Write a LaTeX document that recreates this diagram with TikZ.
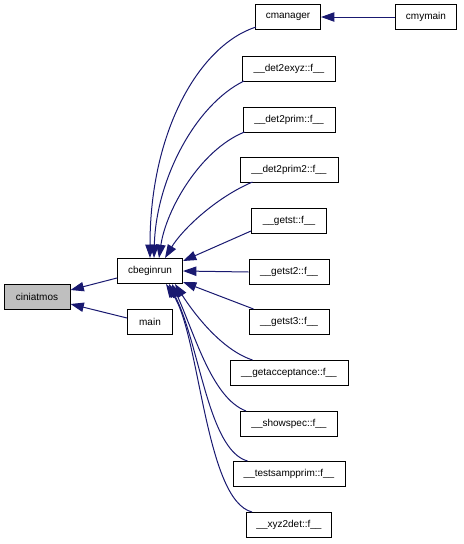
\documentclass[tikz,border=0pt]{standalone}
\usepackage{fontspec}
\setmainfont{Liberation Sans}
\usetikzlibrary{arrows.meta,calc}
\definecolor{edgeblue}{HTML}{191970}
\definecolor{hilite}{HTML}{BFBFBF}
\begin{document}
\begin{tikzpicture}[x=0.75pt,y=-0.75pt,
  box/.style={draw=black,line width=0.75pt,fill=white,minimum height=18.75pt,inner sep=0pt,
    font=\fontsize{7.5}{9}\selectfont},
  call/.style={draw=edgeblue,line width=0.75pt,-{Triangle[length=10pt,width=7pt]}}]
\useasboundingbox (0,0) rectangle (464,544);
\node[box,fill=hilite,minimum width=49.5pt] (ciniatmos) at (37,297) {ciniatmos};
\node[box,minimum width=48.75pt] (cbeginrun) at (150,271) {cbeginrun};
\node[box,minimum width=33.75pt] (main) at (150,322) {main};
\node[box,minimum width=48.75pt] (cmanager) at (288,17) {cmanager};
\node[box,minimum width=45.75pt] (cmymain) at (426,17) {cmymain};
\node[box,minimum width=69.75pt] (det2exyz) at (289,69) {\_\_det2exyz::f\_\_};
\node[box,minimum width=69pt] (det2prim) at (289,120) {\_\_det2prim::f\_\_};
\node[box,minimum width=73.5pt] (det2prim2) at (289,170) {\_\_det2prim2::f\_\_};
\node[box,minimum width=56.25pt] (getst) at (289,221) {\_\_getst::f\_\_};
\node[box,minimum width=60pt] (getst2) at (289,272) {\_\_getst2::f\_\_};
\node[box,minimum width=60pt] (getst3) at (289,322) {\_\_getst3::f\_\_};
\node[box,minimum width=88.5pt] (getacceptance) at (289,373) {\_\_getacceptance::f\_\_};
\node[box,minimum width=72.75pt] (showspec) at (289,424) {\_\_showspec::f\_\_};
\node[box,minimum width=84pt] (testsampprim) at (289,474) {\_\_testsampprim::f\_\_};
\node[box,minimum width=63.75pt] (xyz2det) at (289,525) {\_\_xyz2det::f\_\_};

\draw[call] ($(cbeginrun.west)+(0,7)$) -- ($(ciniatmos.north east)+(0,6)$);
\draw[call] ($(main.west)+(0,-4)$) -- ($(ciniatmos.south east)+(0,-6)$);
\draw[call] (cmymain) -- (cmanager);

\draw[call] ($(cmanager.south west)+(1,-3)$) .. controls (200,45) and (150,130) .. ($(cbeginrun.north west)+(33,0)$);
\draw[call] ($(det2exyz.south west)+(2,-1)$) .. controls (195,105) and (156,180) .. ($(cbeginrun.north west)+(37,0)$);
\draw[call] ($(det2prim.south west)+(2,-1)$) .. controls (200,150) and (166,210) .. ($(cbeginrun.north west)+(42,0)$);
\draw[call] ($(det2prim2.south west)+(13,-1)$) .. controls (215,198) and (182,230) .. ($(cbeginrun.north west)+(48,0)$);
\draw[call] ($(getst.south west)+(0,-3)$) -- ($(cbeginrun.north east)+(0,3)$);
\draw[call] (getst2.west) -- (cbeginrun.east);
\draw[call] ($(getst3.north west)+(5,0)$) -- ($(cbeginrun.south east)+(0,-2)$);
\draw[call] ($(getacceptance.north west)+(23,0)$) .. controls (222,350) and (195,315) .. ($(cbeginrun.south west)+(58,0)$);
\draw[call] ($(showspec.north west)+(6,0)$) .. controls (212,398) and (195,335) .. ($(cbeginrun.south west)+(55,0)$);
\draw[call] ($(testsampprim.north west)+(15,0)$) .. controls (208,450) and (200,345) .. ($(cbeginrun.south west)+(52,0)$);
\draw[call] ($(xyz2det.north west)+(6,0)$) .. controls (205,500) and (200,335) .. ($(cbeginrun.south west)+(49,0)$);
\end{tikzpicture}
\end{document}
